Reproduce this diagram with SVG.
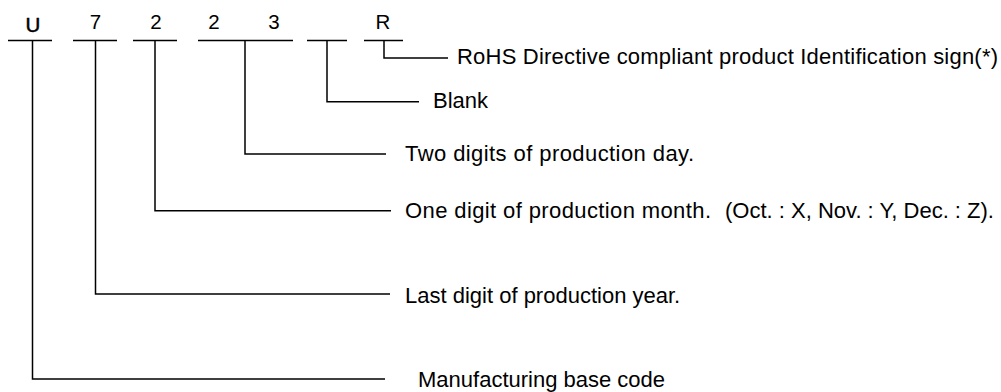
<svg xmlns="http://www.w3.org/2000/svg" width="1001" height="392" viewBox="0 0 1001 392">
<style>
.bg{fill:#fff}
.ch{font-family:"Liberation Sans",Arial,sans-serif;font-size:20.5px;fill:#000;text-anchor:middle}
.lb{font-family:"Liberation Sans",Arial,sans-serif;font-size:22px;fill:#000;white-space:pre}
.bar{stroke:#000;stroke-width:1.5;fill:none}
.ld{stroke:#000;stroke-width:1.5;fill:none}
</style>
<rect class="bg" x="0" y="0" width="1001" height="392"/>
<g id="code-U"><text class="ch" x="33" y="31.5" style="stroke:#000;stroke-width:0.5">U</text><line class="bar" x1="8" y1="40.5" x2="52" y2="40.5"/></g>
<g id="code-7"><text class="ch" x="95.5" y="29">7</text><line class="bar" x1="73" y1="40.5" x2="117" y2="40.5"/></g>
<g id="code-2a"><text class="ch" x="156" y="29">2</text><line class="bar" x1="133" y1="40.5" x2="177" y2="40.5"/></g>
<g id="code-23"><text class="ch" x="214" y="29">2</text><text class="ch" x="274" y="29">3</text><line class="bar" x1="198" y1="40.5" x2="293" y2="40.5"/></g>
<g id="code-blank"><line class="bar" x1="307" y1="40.5" x2="347" y2="40.5"/></g>
<g id="code-R"><text class="ch" x="383" y="29">R</text><line class="bar" x1="364" y1="40.5" x2="403" y2="40.5"/></g>
<g id="connectors">
<polyline class="ld" points="384,40.5 384,58 448,58"/>
<polyline class="ld" points="327,40.5 327,101.7 419,101.7"/>
<polyline class="ld" points="245,40.5 245,154 386,154"/>
<polyline class="ld" points="155,40.5 155,210.7 391,210.7"/>
<polyline class="ld" points="95.5,40.5 95.5,294 390,294"/>
<polyline class="ld" points="32.5,40.5 32.5,379 385,379"/>
</g>
<g id="label-rohs"><text class="lb" x="457" y="63.5" textLength="541" lengthAdjust="spacing">RoHS Directive compliant product Identification sign(*)</text></g>
<g id="label-blank"><text class="lb" x="433" y="108">Blank</text></g>
<g id="label-day"><text class="lb" x="405" y="160.5" textLength="289" lengthAdjust="spacing">Two digits of production day.</text></g>
<g id="label-month"><text class="lb" y="218"><tspan x="405" textLength="306" lengthAdjust="spacing">One digit of production month.</tspan><tspan x="725">(Oct. : X, Nov. : Y, Dec. : Z).</tspan></text></g>
<g id="label-year"><text class="lb" x="405" y="303">Last digit of production year.</text></g>
<g id="label-base"><text class="lb" x="418" y="387">Manufacturing base code</text></g>
</svg>
